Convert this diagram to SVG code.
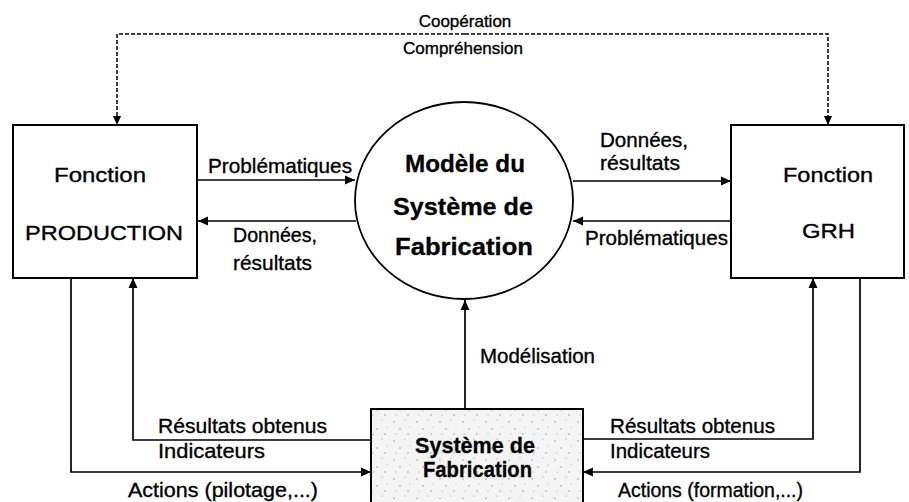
<svg xmlns="http://www.w3.org/2000/svg" width="909" height="502" viewBox="0 0 909 502">
<style>
.t{font-family:"Liberation Sans",Arial,sans-serif;font-size:21px;fill:#000;stroke:#000;stroke-width:0.35}
.s{font-size:17px}
.b{font-weight:bold;font-size:24px;stroke-width:0.3}
.c{text-anchor:middle}
.box{fill:#fff;stroke:#000;stroke-width:2}
.ln{fill:none;stroke:#000;stroke-width:1.7}
.ds{fill:none;stroke:#000;stroke-width:1.5;stroke-dasharray:4 2}
</style>
<defs>
<marker id="ah" viewBox="0 0 10 10" refX="10" refY="5" markerWidth="11" markerHeight="10" markerUnits="userSpaceOnUse" orient="auto">
<path d="M0,0.5 L10,5 L0,9.5 Z" fill="#000"/>
</marker>
<marker id="ahs" viewBox="0 0 10 10" refX="10" refY="5" markerWidth="9" markerHeight="9" markerUnits="userSpaceOnUse" orient="auto">
<path d="M0,0.5 L10,5 L0,9.5 Z" fill="#000"/>
</marker>
<pattern id="stip" width="23" height="19" patternUnits="userSpaceOnUse">
<rect width="23" height="19" fill="#f4f4f4"/>
<circle cx="3" cy="4" r="0.7" fill="#888"/>
<circle cx="14" cy="2" r="0.6" fill="#999"/>
<circle cx="9" cy="11" r="0.7" fill="#888"/>
<circle cx="19" cy="9" r="0.6" fill="#aaa"/>
<circle cx="5" cy="16" r="0.6" fill="#999"/>
<circle cx="17" cy="16" r="0.7" fill="#888"/>
</pattern>
</defs>

<g id="connectors">
<!-- dashed cooperation -->
<path class="ds" d="M465,34 H117 V125" marker-end="url(#ahs)"/>
<path class="ds" d="M465,34 H828 V125" marker-end="url(#ahs)"/>
<!-- production <-> model -->
<line class="ln" x1="198" y1="180" x2="355" y2="180" marker-end="url(#ah)"/>
<line class="ln" x1="356" y1="221" x2="198" y2="221" marker-end="url(#ah)"/>
<!-- model <-> GRH -->
<line class="ln" x1="573" y1="181" x2="731" y2="181" marker-end="url(#ah)"/>
<line class="ln" x1="731" y1="221" x2="573" y2="221" marker-end="url(#ah)"/>
<!-- modelisation -->
<line class="ln" x1="465" y1="409" x2="465" y2="300" marker-end="url(#ah)"/>
<!-- production loops -->
<path class="ln" d="M71,278 V472 H371" marker-end="url(#ah)"/>
<path class="ln" d="M371,440 H133 V278" marker-end="url(#ah)"/>
<!-- GRH loops -->
<path class="ln" d="M583,439 H813 V278" marker-end="url(#ah)"/>
<path class="ln" d="M860,278 V472 H583" marker-end="url(#ah)"/>
</g>

<g id="production">
<rect class="box" x="13" y="125" width="184" height="153"/>
<text class="t" x="54" y="182" textLength="92" lengthAdjust="spacingAndGlyphs">Fonction</text>
<text class="t" x="25" y="240" textLength="158" lengthAdjust="spacingAndGlyphs">PRODUCTION</text>
</g>

<g id="grh">
<rect class="box" x="731" y="125" width="173" height="153"/>
<text class="t" x="783" y="182" textLength="90" lengthAdjust="spacingAndGlyphs">Fonction</text>
<text class="t" x="802" y="238" textLength="53" lengthAdjust="spacingAndGlyphs">GRH</text>
</g>

<g id="modele">
<ellipse cx="464" cy="200.5" rx="109" ry="98.5" fill="#fff" stroke="#000" stroke-width="1.8"/>
<text class="t b" x="405" y="172" textLength="120" lengthAdjust="spacingAndGlyphs">Modèle du</text>
<text class="t b" x="393" y="215" textLength="140" lengthAdjust="spacingAndGlyphs">Système de</text>
<text class="t b" x="395" y="255" textLength="138" lengthAdjust="spacingAndGlyphs">Fabrication</text>
</g>

<g id="systeme">
<rect x="371" y="409" width="212" height="100" fill="url(#stip)" stroke="#000" stroke-width="2"/>
<text class="t b" x="415" y="453" style="font-size:22px" textLength="120" lengthAdjust="spacingAndGlyphs">Système de</text>
<text class="t b" x="423" y="477" style="font-size:22px" textLength="109" lengthAdjust="spacingAndGlyphs">Fabrication</text>
</g>

<g id="labels">
<text class="t s c" x="465" y="27">Coopération</text>
<text class="t s c" x="463" y="54">Compréhension</text>
<text class="t" x="208" y="173" textLength="144" lengthAdjust="spacingAndGlyphs">Problématiques</text>
<text class="t" x="233" y="242" textLength="84" lengthAdjust="spacingAndGlyphs">Données,</text>
<text class="t" x="233" y="270" textLength="79" lengthAdjust="spacingAndGlyphs">résultats</text>
<text class="t" x="600" y="147" textLength="88" lengthAdjust="spacingAndGlyphs">Données,</text>
<text class="t" x="600" y="170" textLength="80" lengthAdjust="spacingAndGlyphs">résultats</text>
<text class="t" x="585" y="245" textLength="143" lengthAdjust="spacingAndGlyphs">Problématiques</text>
<text class="t" x="480" y="363" textLength="115" lengthAdjust="spacingAndGlyphs">Modélisation</text>
<text class="t" x="158" y="433" textLength="169" lengthAdjust="spacingAndGlyphs">Résultats obtenus</text>
<text class="t" x="158" y="458" textLength="107" lengthAdjust="spacingAndGlyphs">Indicateurs</text>
<text class="t" x="128" y="497" textLength="190" lengthAdjust="spacingAndGlyphs">Actions (pilotage,...)</text>
<text class="t" x="610" y="433" textLength="165" lengthAdjust="spacingAndGlyphs">Résultats obtenus</text>
<text class="t" x="610" y="458" textLength="100" lengthAdjust="spacingAndGlyphs">Indicateurs</text>
<text class="t" x="618" y="497" textLength="185" lengthAdjust="spacingAndGlyphs">Actions (formation,...)</text>
</g>
</svg>
